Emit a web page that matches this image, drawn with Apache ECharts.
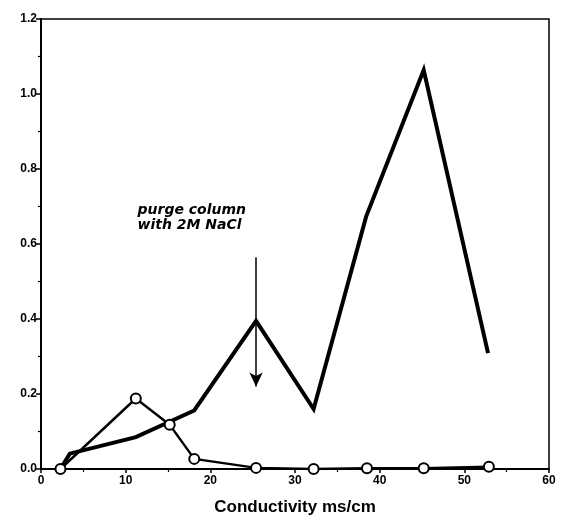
<!DOCTYPE html>
<html>
<head>
<meta charset="utf-8">
<script src="https://cdn.jsdelivr.net/npm/echarts@6/dist/echarts.min.js"></script>
<style>
html,body{margin:0;padding:0;background:#fff;}
#chart{width:562px;height:523px;}
</style>
</head>
<body>
<div id="chart"></div>
<script>
// Thick line (no markers)
const thickX = [2.3, 3.4, 11.2, 18.1, 25.4, 32.2, 38.4, 45.2, 52.8];
const thickY = [0.0, 0.041, 0.085, 0.156, 0.395, 0.16, 0.673, 1.064, 0.309];
// Thin line with open circles
const openX = [2.3, 11.2, 15.2, 18.1, 25.4, 32.2, 38.5, 45.2, 52.9];
const openY = [0.0, 0.188, 0.118, 0.027, 0.003, 0.0, 0.002, 0.002, 0.006];
// Axis ticks
const xTicks = [0, 10, 20, 30, 40, 50, 60];
const yTicks = [0.0, 0.2, 0.4, 0.6, 0.8, 1.0, 1.2];
// Annotation
const arrowX = 25.4, arrowTop = 0.565, arrowTip = 0.22;
const noteText = 'purge column\nwith 2M NaCl';
const noteAt = [11.4, 0.67];

const font = '"Liberation Sans", Arial, Helvetica, sans-serif';
const chart = echarts.init(document.getElementById('chart'), null, {renderer: 'canvas'});

const pair = (xs, ys) => xs.map((x, i) => [x, ys[i]]);

chart.setOption({
  animation: false,
  backgroundColor: '#fff',
  grid: {left: 41, right: 13, top: 19, bottom: 54, show: true, borderColor: '#000', borderWidth: 1.5, backgroundColor: 'transparent'},
  xAxis: {
    type: 'value', min: xTicks[0], max: xTicks[xTicks.length - 1], interval: 10,
    name: 'Conductivity ms/cm', nameLocation: 'middle', nameGap: 30,
    nameTextStyle: {fontFamily: font, fontWeight: 'bold', fontSize: 17, color: '#000'},
    axisLine: {show: true, lineStyle: {color: '#000', width: 2}},
    axisTick: {show: true, length: 4, lineStyle: {color: '#000', width: 1.5}},
    minorTick: {show: true, splitNumber: 2, length: 3, lineStyle: {color: '#000', width: 1.2}},
    axisLabel: {fontFamily: font, fontWeight: 'bold', fontSize: 12, color: '#000', margin: 6},
    splitLine: {show: false}
  },
  yAxis: {
    type: 'value', min: yTicks[0], max: yTicks[yTicks.length - 1], interval: 0.2,
    axisLine: {show: true, lineStyle: {color: '#000', width: 2}},
    axisTick: {show: true, length: 5, lineStyle: {color: '#000', width: 1.5}},
    minorTick: {show: true, splitNumber: 2, length: 3, lineStyle: {color: '#000', width: 1.2}},
    axisLabel: {fontFamily: font, fontWeight: 'bold', fontSize: 12, color: '#000', margin: 4,
      formatter: v => v.toFixed(1)},
    splitLine: {show: false}
  },
  series: [
    {
      type: 'line', data: pair(thickX, thickY), symbol: 'none',
      lineStyle: {color: '#000', width: 4, join: 'miter'},
      z: 3,
      markLine: {
        silent: true, symbol: ['none', 'arrow'], symbolSize: [10, 14],
        lineStyle: {color: '#000', width: 1.5, type: 'solid'},
        label: {show: false},
        data: [[{coord: [arrowX, arrowTop]}, {coord: [arrowX, arrowTip]}]]
      },
      markPoint: {
        silent: true, symbol: 'circle', symbolSize: 0,
        label: {show: true, position: 'right', distance: 0, formatter: noteText, align: 'left',
          fontFamily: '"DejaVu Sans", sans-serif', fontWeight: 'bold', fontStyle: 'italic', fontSize: 14,
          lineHeight: 15, color: '#000'},
        data: [{coord: noteAt}]
      }
    },
    {
      type: 'line', data: pair(openX, openY), symbol: 'circle', symbolSize: 10,
      itemStyle: {color: '#fff', borderColor: '#000', borderWidth: 2},
      lineStyle: {color: '#000', width: 2.4},
      z: 4
    }
  ]
});
</script>
</body>
</html>
